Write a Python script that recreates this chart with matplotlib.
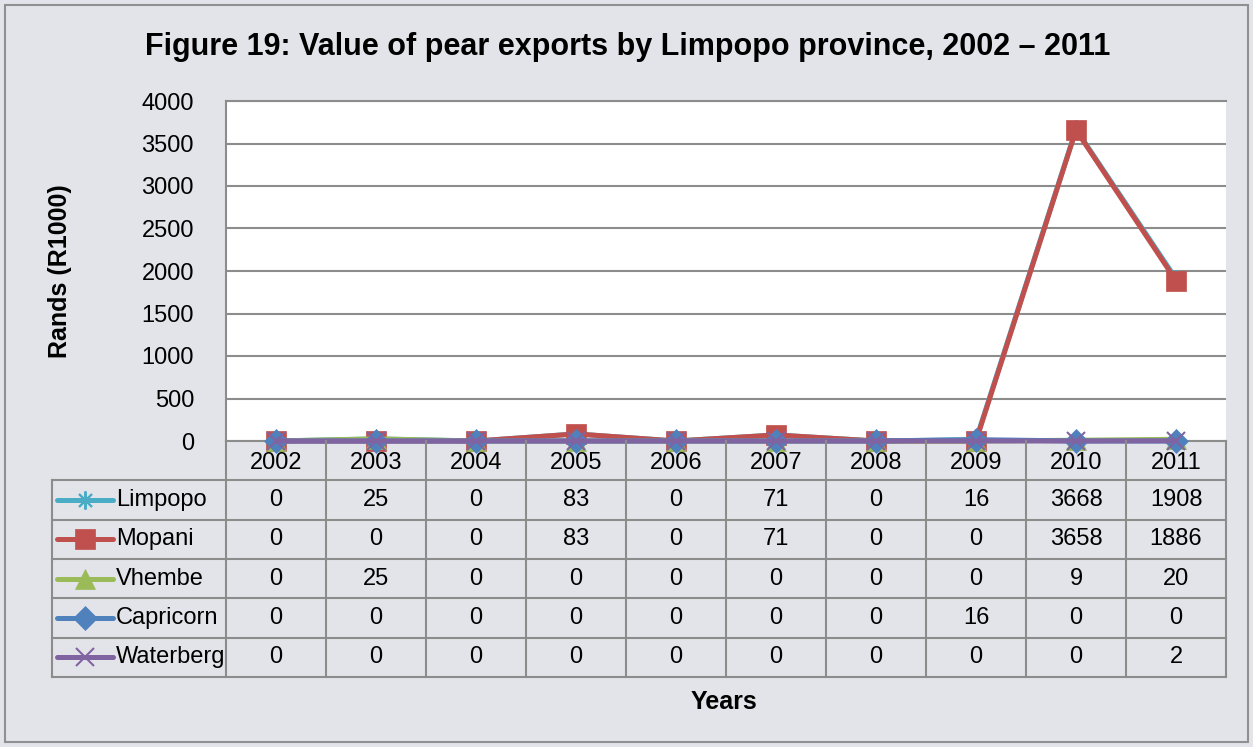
import matplotlib.pyplot as plt
from matplotlib.patches import Rectangle

plt.rcParams['font.family'] = ['Liberation Sans', 'DejaVu Sans']

years = ['2002', '2003', '2004', '2005', '2006', '2007', '2008', '2009', '2010', '2011']
series_names = ['Limpopo', 'Mopani', 'Vhembe', 'Capricorn', 'Waterberg']
limpopo = [0, 25, 0, 83, 0, 71, 0, 16, 3668, 1908]
mopani = [0, 0, 0, 83, 0, 71, 0, 0, 3658, 1886]
vhembe = [0, 25, 0, 0, 0, 0, 0, 0, 9, 20]
capricorn = [0, 0, 0, 0, 0, 0, 0, 16, 0, 0]
waterberg = [0, 0, 0, 0, 0, 0, 0, 0, 0, 2]
y_ticks = [0, 500, 1000, 1500, 2000, 2500, 3000, 3500, 4000]

all_values = [limpopo, mopani, vhembe, capricorn, waterberg]
colors = ['#4BACC6', '#C0504D', '#9BBB59', '#4F81BD', '#8064A2']
markers = [(8, 2, 0), 's', '^', 'D', 'x']
msizes = [13, 14, 14, 12, 13]

bg = '#E3E4E9'
grid_c = '#8C8C8C'
W, H = 1253, 747
fs = 17

fig = plt.figure(figsize=(W / 100, H / 100), dpi=100, facecolor=bg)
fig.patches.append(Rectangle((5 / W, 5 / H), 1 - 10 / W, 1 - 10 / H, transform=fig.transFigure,
                             fill=False, edgecolor='#909090', linewidth=1.5))

# main plot area
ax = fig.add_axes([226 / W, 1 - 441 / H, 1000 / W, 340 / H])
ax.set_facecolor('white')
x = list(range(len(years)))
for vals, c, m, ms in zip(all_values, colors, markers, msizes):
    ax.plot(x, vals, color=c, linewidth=3.6, marker=m, markersize=ms,
            markeredgewidth=1.5 if m in ('x', (8, 2, 0)) else 0.5,
            markeredgecolor=c, markerfacecolor=c, clip_on=False, zorder=3)
ax.set_xlim(-0.5, len(years) - 0.5)
ax.set_ylim(0, 4000)
ax.set_yticks(y_ticks)
ax.set_yticklabels([str(t) for t in y_ticks], fontsize=fs)
ax.set_xticks([])
ax.tick_params(axis='y', length=0, pad=23)
ax.yaxis.grid(True, color=grid_c, linewidth=1.5)
ax.set_axisbelow(True)
for s in ax.spines.values():
    s.set_color(grid_c)
    s.set_linewidth(1.5)
ax.spines['right'].set_visible(False)

# data table below the plot
tb = fig.add_axes([52 / W, 1 - 677 / H, 1174 / W, 236 / H])
tb.set_facecolor('none')
left = -0.5 - 1.74
tb.set_xlim(left, len(years) - 0.5)
tb.set_ylim(6, 0)
tb.axis('off')
lw = 1.5
for i in range(len(years) + 1):
    tb.plot([i - 0.5, i - 0.5], [0, 6], color=grid_c, linewidth=lw, clip_on=False)
tb.plot([left, left], [1, 6], color=grid_c, linewidth=lw, clip_on=False)
for r in range(1, 7):
    tb.plot([left, len(years) - 0.5], [r, r], color=grid_c, linewidth=lw, clip_on=False)
for i, yr in enumerate(years):
    tb.text(i, 0.55, yr, ha='center', va='center', fontsize=fs)
for r, (name, vals, c, m, ms) in enumerate(zip(series_names, all_values, colors, markers, msizes)):
    ry = r + 1.5
    tb.plot([left + 0.05, left + 0.61], [ry, ry], color=c, linewidth=3.6, solid_capstyle='round')
    tb.plot([left + 0.33], [ry], color=c, marker=m, markersize=ms,
            markeredgewidth=1.5 if m in ('x', (8, 2, 0)) else 0.5,
            markeredgecolor=c, markerfacecolor=c)
    tb.text(left + 0.64, ry, name, ha='left', va='center', fontsize=fs)
    for i, v in enumerate(vals):
        tb.text(i, ry, str(v), ha='center', va='center', fontsize=fs)

fig.text(628 / W, 1 - 47 / H, 'Figure 19: Value of pear exports by Limpopo province, 2002 \u2013 2011',
         ha='center', va='center', fontsize=22, fontweight='bold')
fig.text(60 / W, 1 - 271 / H, 'Rands (R1000)', ha='center', va='center', rotation=90,
         fontsize=18, fontweight='bold')
fig.text(724 / W, 1 - 702 / H, 'Years', ha='center', va='center', fontsize=18, fontweight='bold')

fig.savefig('out.png', dpi=100, facecolor=bg)
